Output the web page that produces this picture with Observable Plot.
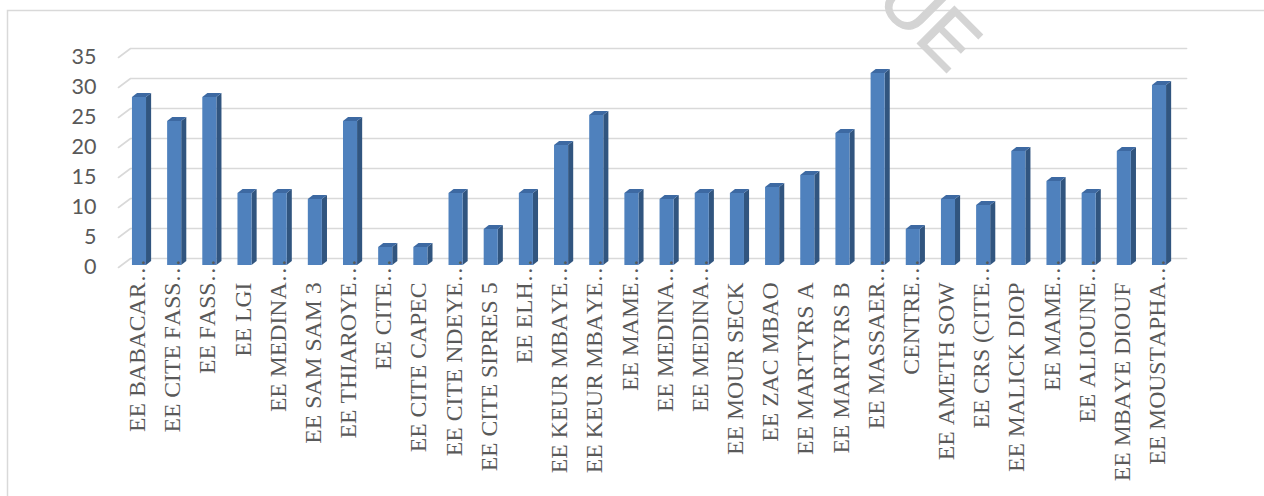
<!DOCTYPE html>
<html>
<head>
<meta charset="utf-8">
<script src="https://cdn.jsdelivr.net/npm/d3@7"></script>
<script src="https://cdn.jsdelivr.net/npm/@observablehq/plot@0.6"></script>
<style>
  html, body { margin: 0; padding: 0; background: #ffffff; }
  #chart svg { display: block; }
  #chart text { font-kerning: none; }
</style>
</head>
<body>
<div id="chart"></div>
<script>
// ---- data ----
const labels = [
  "EE BABACAR…", "EE CITE FASS…", "EE FASS…", "EE LGI", "EE MEDINA…",
  "EE SAM SAM 3", "EE THIAROYE…", "EE CITE…", "EE CITE CAPEC", "EE CITE NDEYE…",
  "EE CITE SIPRES 5", "EE ELH…", "EE KEUR MBAYE…", "EE KEUR MBAYE…", "EE MAME…",
  "EE MEDINA…", "EE MEDINA…", "EE MOUR SECK", "EE ZAC MBAO", "EE MARTYRS A",
  "EE MARTYRS B", "EE MASSAER…", "CENTRE…", "EE AMETH SOW", "EE CRS (CITE…",
  "EE MALICK DIOP", "EE MAME…", "EE ALIOUNE…", "EE MBAYE DIOUF", "EE MOUSTAPHA…"
];
const values = [
  28, 24, 28, 12, 12,
  11, 24, 3, 3, 12,
  6, 12, 20, 25, 12,
  11, 12, 12, 13, 15,
  22, 32, 6, 11, 10,
  19, 14, 12, 19, 30
];
const yTicks = [0, 5, 10, 15, 20, 25, 30, 35];
const watermarkLetters = ["U", "E"];

// ---- derived table ----
const data = labels.map((label, i) => ({
  i, value: values[i],
  name: label.replace("…", ""),
  cut: label.endsWith("…")
}));

// ---- 3D geometry (data units) ----
const half = 0.2;        // half width of the bar's front face
const depthX = 0.145;    // bar depth, horizontal
const depthY = 0.68;     // bar depth, vertical
const gridFrontX = -0.597, gridBackX = -0.255, gridEndX = 29.77;
const gridFrontDY = -0.333, gridBackDY = 1.167;

const colFront = "#4f81bd", colSide = "#31557f", colTop = "#3d69a2";
const textGray = "#595959", gridGray = "#d9d9d9";

const sidePts = data.flatMap(d => [
  {i: d.i, x: d.i + half, y1: 0, y2: d.value},
  {i: d.i, x: d.i + half + depthX, y1: depthY, y2: d.value + depthY}
]);
const topPts = data.flatMap(d => [
  {i: d.i, y: d.value, x1: d.i - half, x2: d.i + half},
  {i: d.i, y: d.value + depthY, x1: d.i - half + depthX, x2: d.i + half + depthX}
]);
const gridPts = yTicks.flatMap(v => [
  {v, x: gridFrontX, y: v + gridFrontDY},
  {v, x: gridBackX, y: v + gridBackDY},
  {v, x: gridEndX, y: v + gridBackDY}
]);

const plot = Plot.plot({
  width: 1264,
  height: 496,
  margin: 0,
  style: {background: "#ffffff", overflow: "visible"},
  x: {type: "linear", domain: [-0.5, 29.5], range: [121.4, 1176.6], axis: null},
  y: {type: "linear", domain: [0, 35], range: [265, 55], axis: null},
  marks: [
    Plot.line(gridPts, {x: "x", y: "y", z: "v", stroke: gridGray, strokeWidth: 1.6}),
    Plot.text(yTicks, {
      x: () => gridFrontX, y: d => d + gridFrontDY, text: d => String(d),
      textAnchor: "end", dx: -22, fontSize: 21.5, fontFamily: "Lato", fill: textGray
    }),
    Plot.areaY(sidePts, {x: "x", y1: "y1", y2: "y2", z: "i", fill: colSide}),
    Plot.areaX(topPts, {y: "y", x1: "x1", x2: "x2", z: "i", fill: colTop}),
    Plot.rect(data, {x1: d => d.i - half, x2: d => d.i + half, y1: 0, y2: "value", fill: colFront}),
    Plot.text(data, {
      x: "i", y: () => 0, text: "name", rotate: -90, textAnchor: "end",
      dy: 17, dx: -2, fontSize: 23.7, fontFamily: "Liberation Serif", fill: textGray
    }),
    Plot.text(data.filter(d => d.cut), {
      x: "i", y: () => 0, text: () => "…", rotate: -90, textAnchor: "start",
      dy: 17, dx: -2, fontSize: 23.7, fontFamily: "Liberation Serif", fill: textGray
    })
  ]
});

// decoration: chart frame (left and top edges) and the partial watermark
const svg = d3.select(plot);
svg.insert("path", ":first-child")
  .attr("d", "M7.5,496V10.5H1264")
  .attr("fill", "none").attr("stroke", gridGray).attr("stroke-width", 1.5);
const wmPos = [[874, 2], [913, 39]];
watermarkLetters.forEach((ch, k) => {
  svg.append("text")
    .attr("transform", `translate(${wmPos[k][0]},${wmPos[k][1]}) rotate(45)`)
    .attr("text-anchor", "start")
    .attr("font-family", "Liberation Sans")
    .attr("font-size", 76)
    .attr("fill", "#d4d4d4")
    .attr("stroke", "#d4d4d4")
    .attr("stroke-width", 1.2)
    .text(ch);
});

document.getElementById("chart").appendChild(plot);
</script>
</body>
</html>
